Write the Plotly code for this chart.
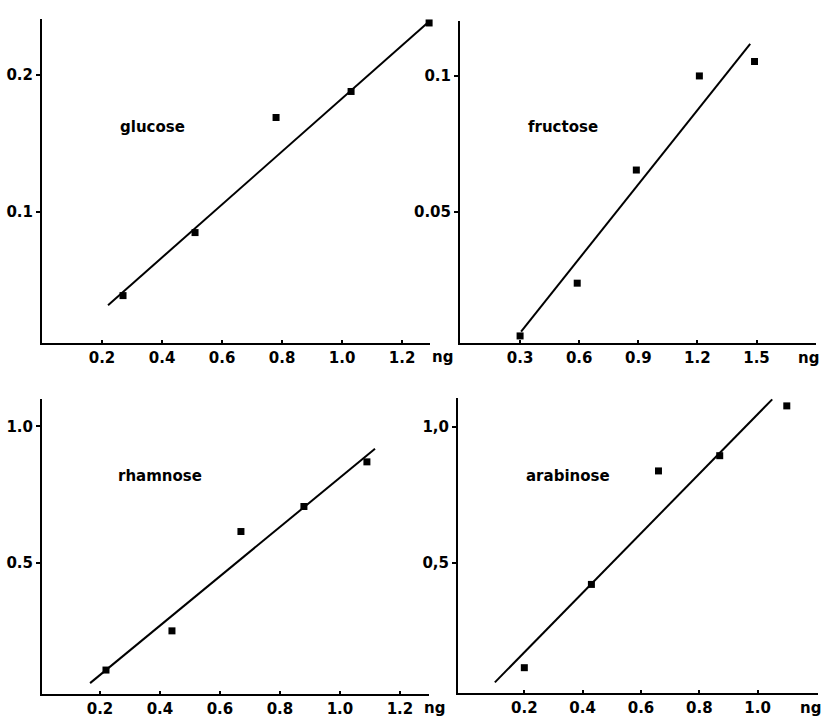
import plotly.graph_objects as go

W, H = 822, 717

# ---------------- data ----------------
glucose_x = [0.27, 0.51, 0.78, 1.03, 1.29]
glucose_y = [0.039, 0.085, 0.169, 0.188, 0.238]
glucose_fit_x = [0.22, 1.29]
glucose_fit_y = [0.032, 0.239]

fructose_x = [0.30, 0.59, 0.89, 1.21, 1.49]
fructose_y = [0.0044, 0.0238, 0.0654, 0.100, 0.1053]
fructose_fit_x = [0.305, 1.468]
fructose_fit_y = [0.006, 0.1118]

rhamnose_x = [0.22, 0.44, 0.67, 0.88, 1.09]
rhamnose_y = [0.105, 0.249, 0.614, 0.706, 0.870]
rhamnose_fit_x = [0.167, 1.117]
rhamnose_fit_y = [0.057, 0.918]

arabinose_x = [0.20, 0.43, 0.66, 0.87, 1.10]
arabinose_y = [0.114, 0.420, 0.837, 0.893, 1.076]
arabinose_fit_x = [0.099, 1.05]
arabinose_fit_y = [0.06, 1.10]

# tick values / labels
glucose_xticks = [0.2, 0.4, 0.6, 0.8, 1.0, 1.2]
glucose_xlabels = ["0.2", "0.4", "0.6", "0.8", "1.0", "1.2"]
glucose_yticks = [0.1, 0.2]
glucose_ylabels = ["0.1", "0.2"]

fructose_xticks = [0.3, 0.6, 0.9, 1.2, 1.5]
fructose_xlabels = ["0.3", "0.6", "0.9", "1.2", "1.5"]
fructose_yticks = [0.05, 0.1]
fructose_ylabels = ["0.05", "0.1"]

rhamnose_xticks = [0.2, 0.4, 0.6, 0.8, 1.0, 1.2]
rhamnose_xlabels = ["0.2", "0.4", "0.6", "0.8", "1.0", "1.2"]
rhamnose_yticks = [0.5, 1.0]
rhamnose_ylabels = ["0.5", "1.0"]

arabinose_xticks = [0.2, 0.4, 0.6, 0.8, 1.0]
arabinose_xlabels = ["0.2", "0.4", "0.6", "0.8", "1.0"]
arabinose_yticks = [0.5, 1.0]
arabinose_ylabels = ["0,5", "1,0"]

names = ["glucose", "fructose", "rhamnose", "arabinose"]
unit = "ng"

# ---------------- layout geometry (pixels) ----------------
FONT = dict(family="DejaVu Sans", size=15, color="black", weight="bold")

panels = [
    dict(name=names[0], px=(42, 430), py=(19, 343), xr=[0.0, 1.293], yr=[0.0044, 0.2409],
         x=glucose_x, y=glucose_y, fx=glucose_fit_x, fy=glucose_fit_y,
         xt=glucose_xticks, xl=glucose_xlabels, yt=glucose_yticks, yl=glucose_ylabels,
         lab=(0.367, 0.162), ng=(442, 357)),
    dict(name=names[1], px=(460, 816), py=(21, 343), xr=[-0.005, 1.802], yr=[0.0018, 0.1202],
         x=fructose_x, y=fructose_y, fx=fructose_fit_x, fy=fructose_fit_y,
         xt=fructose_xticks, xl=fructose_xlabels, yt=fructose_yticks, yl=fructose_ylabels,
         lab=(0.518, 0.0813), ng=(808, 358)),
    dict(name=names[2], px=(42, 429), py=(399, 694), xr=[0.0067, 1.297], yr=[0.017, 1.101],
         x=rhamnose_x, y=rhamnose_y, fx=rhamnose_fit_x, fy=rhamnose_fit_y,
         xt=rhamnose_xticks, xl=rhamnose_xlabels, yt=rhamnose_yticks, yl=rhamnose_ylabels,
         lab=(0.40, 0.819), ng=(434, 708)),
    dict(name=names[3], px=(458, 818), py=(398, 693), xr=[-0.0274, 1.207], yr=[0.021, 1.105],
         x=arabinose_x, y=arabinose_y, fx=arabinose_fit_x, fy=arabinose_fit_y,
         xt=arabinose_xticks, xl=arabinose_xlabels, yt=arabinose_yticks, yl=arabinose_ylabels,
         lab=(0.35, 0.819), ng=(810, 708)),
]

fig = go.Figure()
layout = dict(
    width=W, height=H,
    margin=dict(l=0, r=0, t=0, b=0),
    paper_bgcolor="white", plot_bgcolor="white",
    showlegend=False,
    font=FONT,
)
annotations = []

for i, p in enumerate(panels, start=1):
    xa = "x" if i == 1 else f"x{i}"
    ya = "y" if i == 1 else f"y{i}"
    xkey = "xaxis" if i == 1 else f"xaxis{i}"
    ykey = "yaxis" if i == 1 else f"yaxis{i}"

    fig.add_trace(go.Scatter(x=p["fx"], y=p["fy"], mode="lines",
                             line=dict(color="black", width=2),
                             xaxis=xa, yaxis=ya, hoverinfo="skip"))
    fig.add_trace(go.Scatter(x=p["x"], y=p["y"], mode="markers",
                             marker=dict(symbol="square", size=7, color="black"),
                             cliponaxis=False,
                             xaxis=xa, yaxis=ya))

    layout[xkey] = dict(
        domain=[p["px"][0] / W, p["px"][1] / W],
        range=p["xr"], anchor=ya,
        tickmode="array", tickvals=p["xt"], ticktext=p["xl"],
        ticks="inside", ticklen=3, tickwidth=1.5, tickcolor="black",
        showline=True, linecolor="black", linewidth=2,
        showgrid=False, zeroline=False, fixedrange=True,
        tickfont=FONT,
    )
    layout[ykey] = dict(
        domain=[1 - p["py"][1] / H, 1 - p["py"][0] / H],
        range=p["yr"], anchor=xa,
        tickmode="array", tickvals=p["yt"], ticktext=p["yl"],
        ticks="outside", ticklen=4, tickwidth=1.5, tickcolor="black",
        showline=True, linecolor="black", linewidth=2,
        showgrid=False, zeroline=False, fixedrange=True,
        tickfont=FONT,
    )

    annotations.append(dict(x=p["lab"][0], y=p["lab"][1], xref=xa, yref=ya,
                            text=p["name"], showarrow=False, font=FONT,
                            xanchor="center", yanchor="middle"))
    annotations.append(dict(x=p["ng"][0] / W, y=1 - p["ng"][1] / H, xref="paper", yref="paper",
                            text=unit, showarrow=False, font=FONT,
                            xanchor="center", yanchor="middle"))

layout["annotations"] = annotations
fig.update_layout(**layout)

fig.write_html("out.html", config={"displayModeBar": False},
               post_script="document.body.style.margin='0';")
